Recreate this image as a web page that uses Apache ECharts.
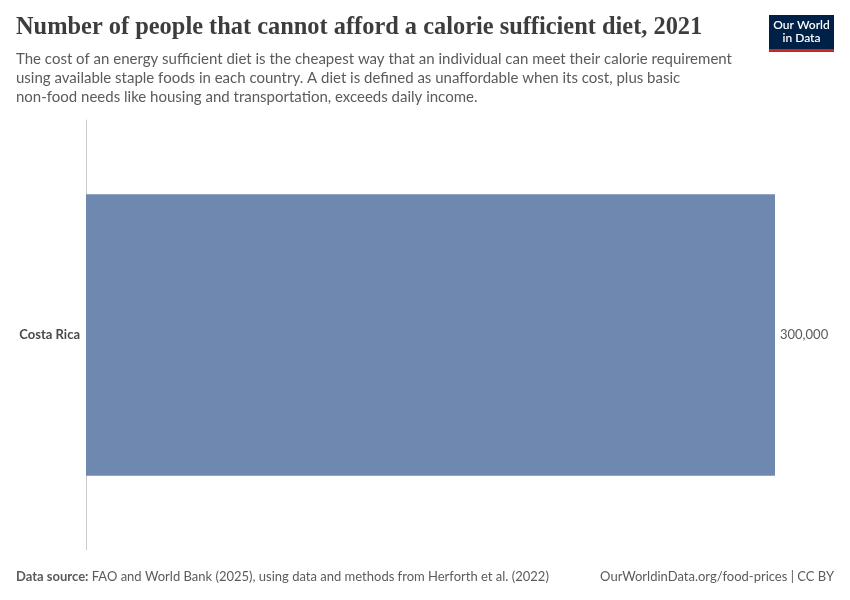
<!DOCTYPE html>
<html>
<head>
<meta charset="utf-8">
<script src="https://cdn.jsdelivr.net/npm/echarts@6/dist/echarts.min.js"></script>
<style>
html,body{margin:0;padding:0;background:#fff;}
#chart{width:850px;height:600px;}
</style>
</head>
<body>
<div id="chart"></div>
<script>
const categories = ['Costa Rica'];
const values = [300000];
const valueLabels = ['300,000'];

const chart = echarts.init(document.getElementById('chart'), null, {renderer: 'canvas'});
const option = {
  backgroundColor: '#ffffff',
  animation: false,
  title: [
    {
      text: 'Number of people that cannot afford a calorie sufficient diet, 2021',
      left: 16, top: 16, padding: 0,
      textStyle: {fontFamily: '"Liberation Serif", "DejaVu Serif", serif', fontSize: 24.4, fontWeight: 600, color: '#3d3d3d'}
    },
    {
      text: 'The cost of an energy sufficient diet is the cheapest way that an individual can meet their calorie requirement\nusing available staple foods in each country. A diet is defined as unaffordable when its cost, plus basic\nnon-food needs like housing and transportation, exceeds daily income.',
      left: 16, top: 50, padding: 0,
      textStyle: {fontFamily: 'Lato, "Noto Sans", sans-serif', fontSize: 15, fontWeight: 'normal', color: '#5b5b5b', lineHeight: 19}
    }
  ],
  grid: {left: 86, right: 75, top: 120, bottom: 50, containLabel: false},
  xAxis: {
    type: 'value', min: 0, max: 300000,
    show: false
  },
  yAxis: {
    type: 'category', data: categories, inverse: true,
    axisLine: {show: true, lineStyle: {color: '#cccccc', width: 1}},
    axisTick: {show: false},
    axisLabel: {fontFamily: 'Lato, "Noto Sans", sans-serif', fontSize: 13, fontWeight: 'bold', color: '#4a4a4a', margin: 6}
  },
  series: [{
    type: 'bar',
    data: values,
    barWidth: '65.5%',
    itemStyle: {color: '#6f88b0'},
    label: {
      show: true, position: 'right', distance: 5,
      formatter: (p) => valueLabels[p.dataIndex],
      fontFamily: 'Lato, "Noto Sans", sans-serif', fontSize: 13, color: '#5b5b5b'
    }
  }],
  graphic: [
    {type: 'rect', x: 769, y: 15, shape: {width: 65, height: 34}, style: {fill: '#002147'}},
    {type: 'rect', x: 769, y: 49, shape: {width: 65, height: 3}, style: {fill: '#ce261e'}},
    {type: 'text', x: 801.5, y: 19, style: {text: 'Our World\nin Data', align: 'center', verticalAlign: 'top', fill: '#ffffff', font: '600 12px Lato, "Noto Sans", sans-serif', lineHeight: 13}},
    {type: 'text', x: 16, y: 570, style: {text: '{b|Data source:} FAO and World Bank (2025), using data and methods from Herforth et al. (2022)', rich: {b: {fontWeight: 'bold', fill: '#5b5b5b', fontSize: 13, fontFamily: 'Lato, "Noto Sans", sans-serif'}}, fill: '#5b5b5b', font: '13px Lato, "Noto Sans", sans-serif'}},
    {type: 'text', x: 834, y: 570, style: {text: 'OurWorldinData.org/food-prices | CC BY', align: 'right', fill: '#5b5b5b', font: '13px Lato, "Noto Sans", sans-serif'}}
  ]
};
chart.setOption(option);
</script>
</body>
</html>
